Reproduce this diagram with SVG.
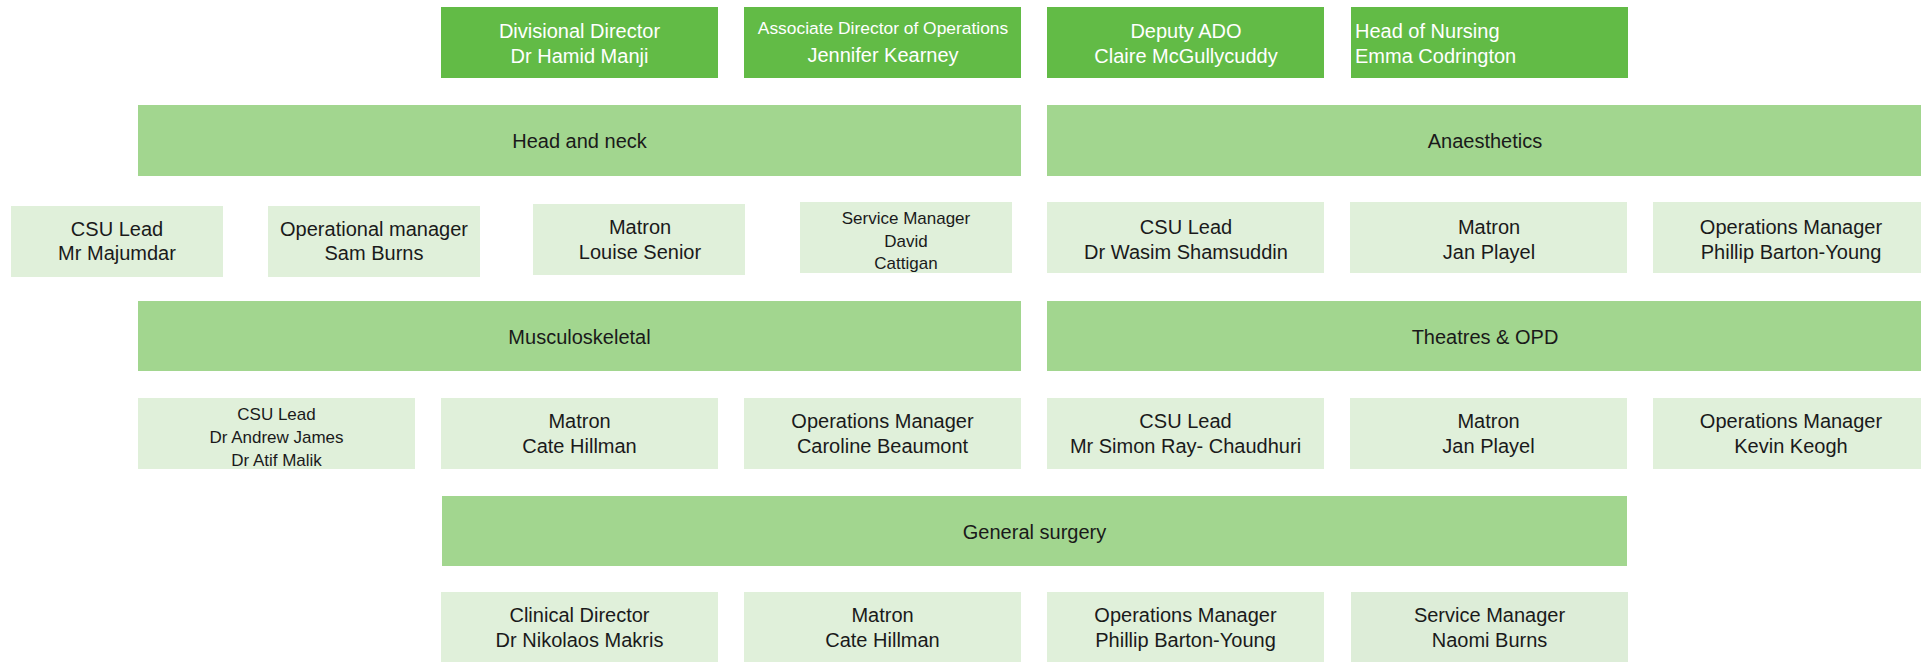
<svg xmlns="http://www.w3.org/2000/svg" width="1921" height="662" viewBox="0 0 1921 662">
<style>
.dk{fill:#62BB46}
.bar{fill:#A2D68F}
.lt{fill:#E0F0DA}
.lt2{fill:#DDEDD8}
text{font-family:"Liberation Sans",Arial,sans-serif;font-size:20px;fill:#1a1a1a;text-anchor:middle}
.w{fill:#ffffff}
.s{font-size:17px}
.s2{font-size:17.4px}
.l{text-anchor:start}
</style>
<rect width="1921" height="662" fill="#ffffff"/>
<g id="connectors"></g>
<g id="n-divisional-director"><rect class="dk" x="441" y="7" width="277" height="71"/><text class="w" x="579.5" y="38">Divisional Director</text><text class="w" x="579.5" y="62.5">Dr Hamid Manji</text></g>
<g id="n-ado"><rect class="dk" x="744" y="7" width="277" height="71"/><text class="w s2" x="883" y="34">Associate Director of Operations</text><text class="w" x="883" y="61.5">Jennifer Kearney</text></g>
<g id="n-deputy-ado"><rect class="dk" x="1047" y="7" width="277" height="71"/><text class="w" x="1186" y="38">Deputy ADO</text><text class="w" x="1186" y="62.5">Claire McGullycuddy</text></g>
<g id="n-head-nursing"><rect class="dk" x="1351" y="7" width="277" height="71"/><text class="w l" x="1355" y="38">Head of Nursing</text><text class="w l" x="1355" y="62.5">Emma Codrington</text></g>

<g id="n-head-neck"><rect class="bar" x="138" y="105" width="883" height="71"/><text x="579.5" y="148">Head and neck</text></g>
<g id="n-anaesthetics"><rect class="bar" x="1047" y="105" width="874" height="71"/><text x="1485" y="148">Anaesthetics</text></g>

<g id="n-hn-csu"><rect class="lt" x="11" y="206" width="212" height="71"/><text x="117" y="235.5">CSU Lead</text><text x="117" y="260">Mr Majumdar</text></g>
<g id="n-hn-opman"><rect class="lt" x="268" y="206" width="212" height="71"/><text x="374" y="235.5">Operational manager</text><text x="374" y="260">Sam Burns</text></g>
<g id="n-hn-matron"><rect class="lt" x="533" y="204" width="212" height="71"/><text x="640" y="234">Matron</text><text x="640" y="258.5">Louise Senior</text></g>
<g id="n-hn-service"><rect class="lt" x="800" y="202" width="212" height="71"/><text class="s" x="906" y="224">Service Manager</text><text class="s" x="906" y="246.5">David</text><text class="s" x="906" y="269">Cattigan</text></g>
<g id="n-an-csu"><rect class="lt" x="1047" y="202" width="277" height="71"/><text x="1186" y="234">CSU Lead</text><text x="1186" y="259">Dr Wasim Shamsuddin</text></g>
<g id="n-an-matron"><rect class="lt" x="1350" y="202" width="277" height="71"/><text x="1489" y="234">Matron</text><text x="1489" y="259">Jan Playel</text></g>
<g id="n-an-ops"><rect class="lt" x="1653" y="202" width="268" height="71"/><text x="1791" y="234">Operations Manager</text><text x="1791" y="259">Phillip Barton-Young</text></g>

<g id="n-msk"><rect class="bar" x="138" y="301" width="883" height="70"/><text x="579.5" y="344">Musculoskeletal</text></g>
<g id="n-theatres"><rect class="bar" x="1047" y="301" width="874" height="70"/><text x="1485" y="344">Theatres &amp; OPD</text></g>

<g id="n-msk-csu"><rect class="lt" x="138" y="398" width="277" height="71"/><text class="s" x="276.5" y="420">CSU Lead</text><text class="s" x="276.5" y="443">Dr Andrew James</text><text class="s" x="276.5" y="466">Dr Atif Malik</text></g>
<g id="n-msk-matron"><rect class="lt" x="441" y="398" width="277" height="71"/><text x="579.5" y="428">Matron</text><text x="579.5" y="453">Cate Hillman</text></g>
<g id="n-msk-ops"><rect class="lt" x="744" y="398" width="277" height="71"/><text x="882.5" y="428">Operations Manager</text><text x="882.5" y="453">Caroline Beaumont</text></g>
<g id="n-th-csu"><rect class="lt" x="1047" y="398" width="277" height="71"/><text x="1185.5" y="428">CSU Lead</text><text x="1185.5" y="453">Mr Simon Ray- Chaudhuri</text></g>
<g id="n-th-matron"><rect class="lt" x="1350" y="398" width="277" height="71"/><text x="1488.5" y="428">Matron</text><text x="1488.5" y="453">Jan Playel</text></g>
<g id="n-th-ops"><rect class="lt" x="1653" y="398" width="268" height="71"/><text x="1791" y="428">Operations Manager</text><text x="1791" y="453">Kevin Keogh</text></g>

<g id="n-gen-surg"><rect class="bar" x="442" y="496" width="1185" height="70"/><text x="1034.5" y="539">General surgery</text></g>

<g id="n-gs-cd"><rect class="lt" x="441" y="592" width="277" height="70"/><text x="579.5" y="622">Clinical Director</text><text x="579.5" y="646.5">Dr Nikolaos Makris</text></g>
<g id="n-gs-matron"><rect class="lt" x="744" y="592" width="277" height="70"/><text x="882.5" y="622">Matron</text><text x="882.5" y="646.5">Cate Hillman</text></g>
<g id="n-gs-ops"><rect class="lt" x="1047" y="592" width="277" height="70"/><text x="1185.5" y="622">Operations Manager</text><text x="1185.5" y="646.5">Phillip Barton-Young</text></g>
<g id="n-gs-service"><rect class="lt2" x="1351" y="592" width="277" height="70"/><text x="1489.5" y="622">Service Manager</text><text x="1489.5" y="646.5">Naomi Burns</text></g>
</svg>
